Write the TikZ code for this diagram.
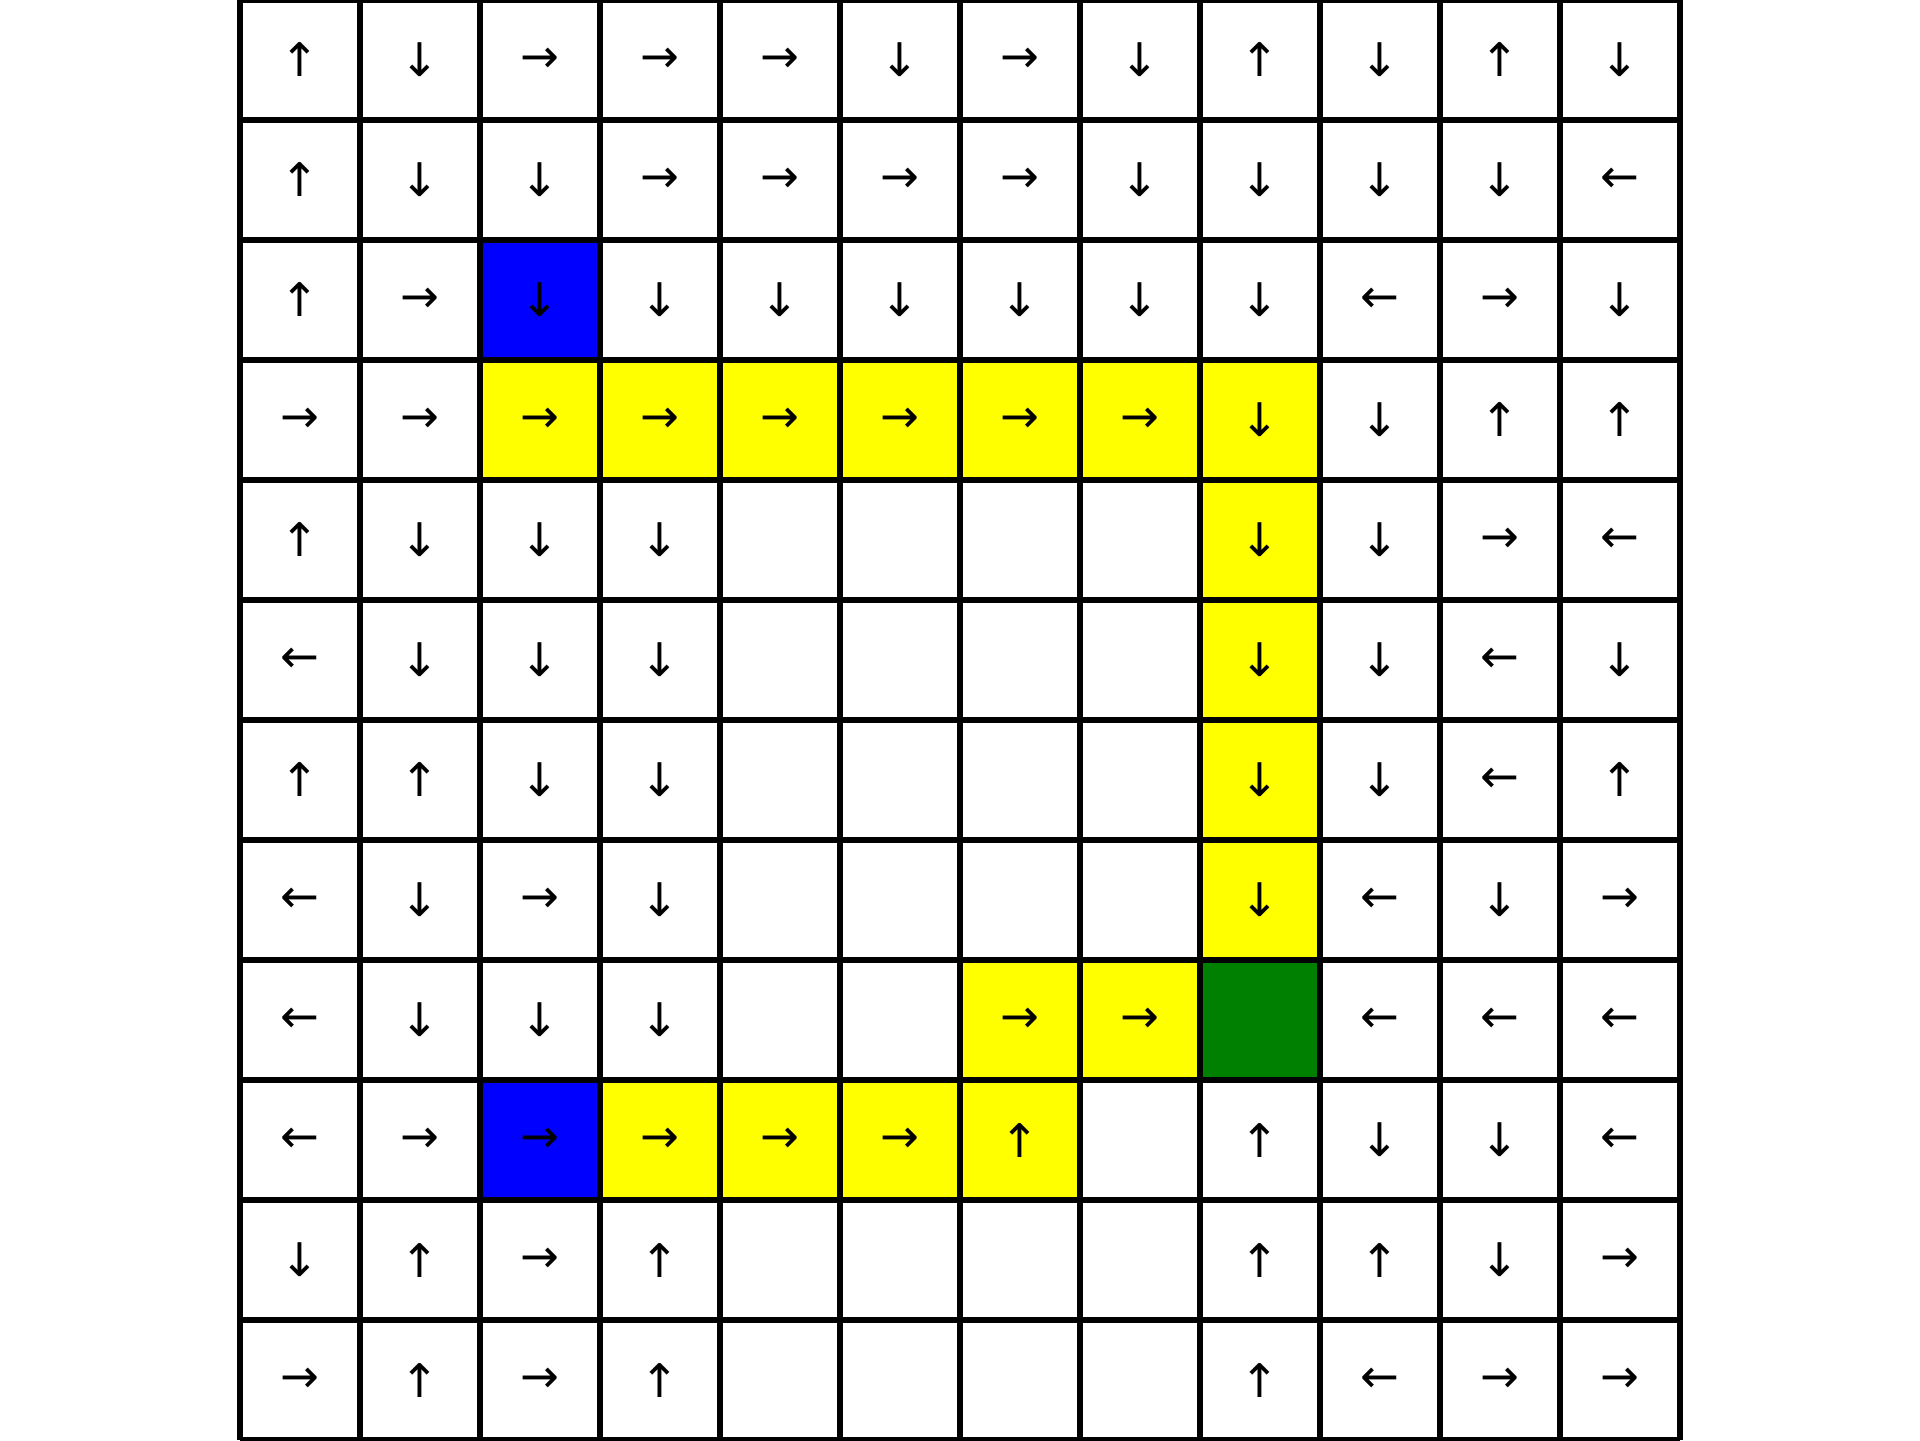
\documentclass[tikz,border=0pt]{standalone}
\usepackage{fontspec}
\newfontfamily\arrowfont{DejaVu Sans}
\def\arru{↑}
\def\arrd{↓}
\def\arrl{←}
\def\arrr{→}
\tikzset{
  arrowtxt/.style={inner sep=0pt, font=\arrowfont\fontsize{11}{13}\selectfont},
  gridline/.style={line width=0.05cm, black},
}
\definecolor{cblue}{RGB}{0,0,255}
\definecolor{cyellow}{RGB}{255,255,0}
\definecolor{cgreen}{RGB}{0,128,0}
\begin{document}
\begin{tikzpicture}[x=1cm,y=1cm]
\useasboundingbox (0,0) rectangle (16,12);
\fill[white] (0,0) rectangle (16,12);
% coloured cells: (row,col)
\foreach \r/\c in {3/2,3/3,3/4,3/5,3/6,3/7,3/8,4/8,5/8,6/8,7/8,8/6,8/7,9/3,9/4,9/5,9/6}
  \fill[cyellow] (2+\c,11-\r) rectangle (3+\c,12-\r);
\foreach \r/\c in {2/2,9/2}
  \fill[cblue] (2+\c,11-\r) rectangle (3+\c,12-\r);
\fill[cgreen] (10,3) rectangle (11,4);
\begin{scope}
\clip (0,0) rectangle (16,12);
\draw[gridline] (2,0) grid (14,12);
\end{scope}
\foreach \r/\row in {
  0/{u,d,r,r,r,d,r,d,u,d,u,d},
  1/{u,d,d,r,r,r,r,d,d,d,d,l},
  2/{u,r,d,d,d,d,d,d,d,l,r,d},
  3/{r,r,r,r,r,r,r,r,d,d,u,u},
  4/{u,d,d,d,n,n,n,n,d,d,r,l},
  5/{l,d,d,d,n,n,n,n,d,d,l,d},
  6/{u,u,d,d,n,n,n,n,d,d,l,u},
  7/{l,d,r,d,n,n,n,n,d,l,d,r},
  8/{l,d,d,d,n,n,r,r,n,l,l,l},
  9/{l,r,r,r,r,r,u,n,u,d,d,l},
  10/{d,u,r,u,n,n,n,n,u,u,d,r},
  11/{r,u,r,u,n,n,n,n,u,l,r,r}}{
  \foreach \a [count=\c from 0] in \row {
    \if\a n\else
      \node[arrowtxt] (c-\r-\c) at (2.5+\c,11.5-\r) {\csname arr\a\endcsname};
    \fi
  }
}
\end{tikzpicture}
\end{document}
